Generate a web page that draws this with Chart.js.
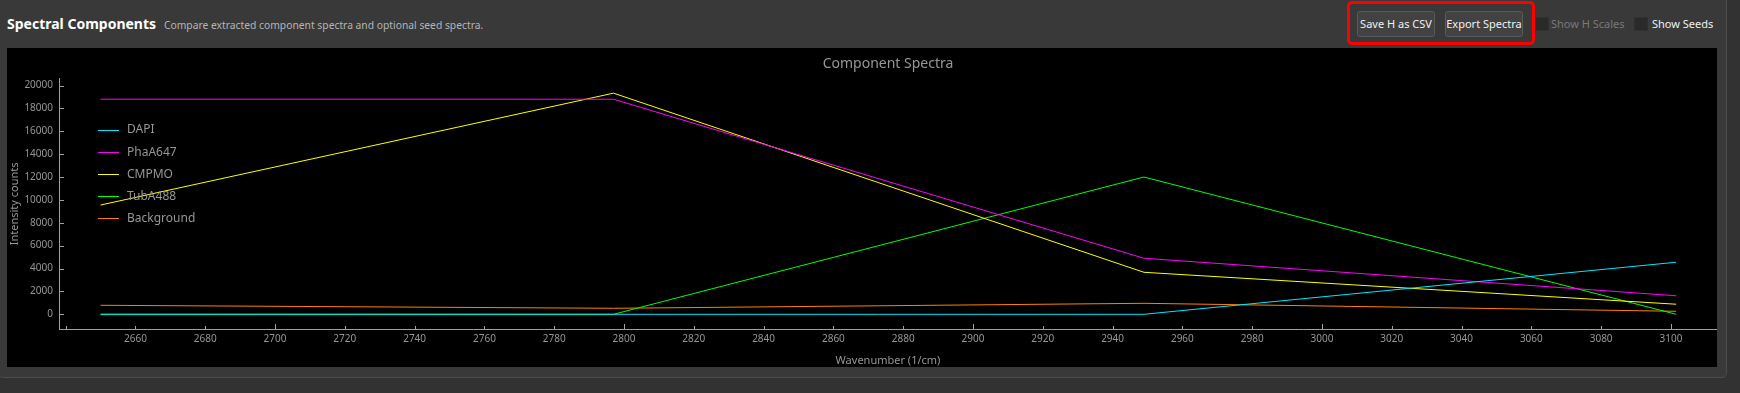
<!DOCTYPE html>
<html>
<head>
<meta charset="utf-8">
<script src="https://cdn.jsdelivr.net/npm/chart.js@4.4.1/dist/chart.umd.min.js"></script>
<style>
  html, body { margin: 0; padding: 0; }
  body { width: 1740px; height: 393px; background: #323232; position: relative; overflow: hidden;
         font-family: 'Noto Sans', sans-serif; }
  .frame { position: absolute; left: -2px; top: -10px; width: 1729px; height: 388px; box-sizing: border-box;
           background: #393939; border: 1px solid #4c4c4c; border-radius: 5px; }
  .title { position: absolute; left: 7px; top: 14px; font-size: 14px; font-weight: bold; color: #fff; }
  .sub { position: absolute; left: 164px; top: 18px; font-size: 10.3px; color: #b4b4b4; }
  .btn { position: absolute; top: 11px; height: 26px; width: 78px; box-sizing: border-box;
         background: #424242; border: 1px solid #5a5a5a; border-radius: 3px; color: #f0f0f0;
         font-size: 11px; line-height: 24px; text-align: center; }
  .mark { position: absolute; left: 1347px; top: 1px; width: 188px; height: 44px; box-sizing: border-box;
          border: 3px solid #ff0000; border-radius: 5px; }
  .cb { position: absolute; top: 17px; width: 12px; height: 12px; background: #2a2a2a; border: 1px solid #303030; }
  .cbl { position: absolute; top: 16px; font-size: 11px; }
  #chart { position: absolute; left: 7px; top: 48px; background: #000; }
</style>
</head>
<body>
<div class="frame"></div>
<div class="title">Spectral Components</div>
<div class="sub">Compare extracted component spectra and optional seed spectra.</div>
<div class="btn" style="left:1357px">Save H as CSV</div>
<div class="btn" style="left:1445px">Export Spectra</div>
<div class="mark"></div>
<div class="cb" style="left:1535px"></div>
<div class="cbl" style="left:1551px;color:#787878">Show H Scales</div>
<div class="cb" style="left:1634px"></div>
<div class="cbl" style="left:1652px;color:#f0f0f0">Show Seeds</div>
<canvas id="chart" width="1710" height="319"></canvas>
<script>
var wavenumbers = [2650, 2797, 2949, 3101.5];
var dapi = [0, 0, 0, 4550];
var phaA647 = [18800, 18800, 4900, 1620];
var cmpmo = [9550, 19330, 3670, 880];
var tubA488 = [0, 0, 12000, 0];
var background = [787, 525, 960, 262];

var seriesNames = ["DAPI", "PhaA647", "CMPMO", "TubA488", "Background"];
var seriesValues = [dapi, phaA647, cmpmo, tubA488, background];
var seriesColors = ["#00e8ff", "#ff00ff", "#ffff00", "#00ff00", "#ff8000"];

var xTicks = [2640, 2660, 2680, 2700, 2720, 2740, 2760, 2780, 2800, 2820, 2840, 2860, 2880,
  2900, 2920, 2940, 2960, 2980, 3000, 3020, 3040, 3060, 3080, 3100];
var yTicks = [0, 2000, 4000, 6000, 8000, 10000, 12000, 14000, 16000, 18000, 20000];

var axisColor = "#a0a0a0";
var textColor = "#969696";

Chart.defaults.font.family = "'Noto Sans', sans-serif";

var datasets = seriesNames.map(function (name, i) {
  return {
    label: name,
    data: wavenumbers.map(function (w, j) { return { x: w, y: seriesValues[i][j] }; }),
    borderColor: seriesColors[i],
    backgroundColor: seriesColors[i],
    borderWidth: 1,
    pointRadius: 0,
    tension: 0
  };
});

// ticks point into the plot, like the original pyqtgraph look
var innerTicks = {
  id: "innerTicks",
  afterDraw: function (chart) {
    var ctx = chart.ctx, x = chart.scales.x, y = chart.scales.y, area = chart.chartArea;
    ctx.save();
    ctx.strokeStyle = axisColor;
    ctx.lineWidth = 1;
    ctx.beginPath();
    x.ticks.forEach(function (t) {
      var px = Math.round(x.getPixelForValue(t.value)) + 0.5;
      var len = t.value % 100 === 0 ? 5 : 3;
      ctx.moveTo(px, area.bottom);
      ctx.lineTo(px, area.bottom - len);
    });
    y.ticks.forEach(function (t) {
      var py = Math.round(y.getPixelForValue(t.value)) + 0.5;
      ctx.moveTo(area.left, py);
      ctx.lineTo(area.left + 5, py);
    });
    ctx.stroke();
    ctx.restore();
  }
};

var innerLegend = {
  id: "innerLegend",
  afterDatasetsDraw: function (chart) {
    var ctx = chart.ctx;
    ctx.save();
    ctx.font = "12px 'Noto Sans', sans-serif";
    ctx.textBaseline = "middle";
    chart.data.datasets.forEach(function (ds, i) {
      var ly = 82 + i * 22.1;
      ctx.strokeStyle = ds.borderColor;
      ctx.lineWidth = 1;
      ctx.beginPath();
      ctx.moveTo(91, Math.round(ly) + 0.5);
      ctx.lineTo(112, Math.round(ly) + 0.5);
      ctx.stroke();
      ctx.fillStyle = textColor;
      ctx.fillText(ds.label, 120, ly);
    });
    ctx.restore();
  }
};

function setTicks(list) {
  return function (scale) {
    scale.ticks = list.map(function (v) { return { value: v }; });
  };
}

var ctx = document.getElementById("chart").getContext("2d");
var chart = new Chart(ctx, {
  type: "line",
  data: { datasets: datasets },
  plugins: [innerTicks, innerLegend],
  options: {
    responsive: false,
    animation: false,
    layout: { padding: 0 },
    plugins: {
      legend: { display: false },
      tooltip: { enabled: false },
      title: {
        display: true,
        text: "Component Spectra",
        fullSize: false,
        color: textColor,
        font: { size: 14, weight: "normal" },
        padding: { top: 8, bottom: 6 }
      }
    },
    scales: {
      x: {
        type: "linear",
        min: 2638.1,
        max: 3113.2,
        afterBuildTicks: setTicks(xTicks),
        grid: { display: false, drawTicks: false },
        border: { display: true, color: axisColor },
        ticks: {
          autoSkip: false,
          maxRotation: 0,
          padding: 4,
          color: textColor,
          font: { size: 10 },
          callback: function (v) { return v < wavenumbers[0] ? "" : String(v); }
        },
        title: {
          display: true,
          text: "Wavenumber (1/cm)",
          color: textColor,
          font: { size: 11 },
          padding: { top: 0, bottom: 0 }
        },
        afterFit: function (s) { s.height = 38; }
      },
      y: {
        min: -1286,
        max: 20586,
        afterBuildTicks: setTicks(yTicks),
        grid: { display: false, drawTicks: false },
        border: { display: true, color: axisColor },
        ticks: {
          padding: 6,
          color: textColor,
          font: { size: 10 },
          callback: function (v) { return String(v); }
        },
        title: {
          display: true,
          text: "Intensity counts",
          color: textColor,
          font: { size: 11 },
          padding: { top: 1.5, bottom: 0 }
        },
        afterFit: function (s) { s.width = 52; }
      }
    }
  }
});
</script>
</body>
</html>
